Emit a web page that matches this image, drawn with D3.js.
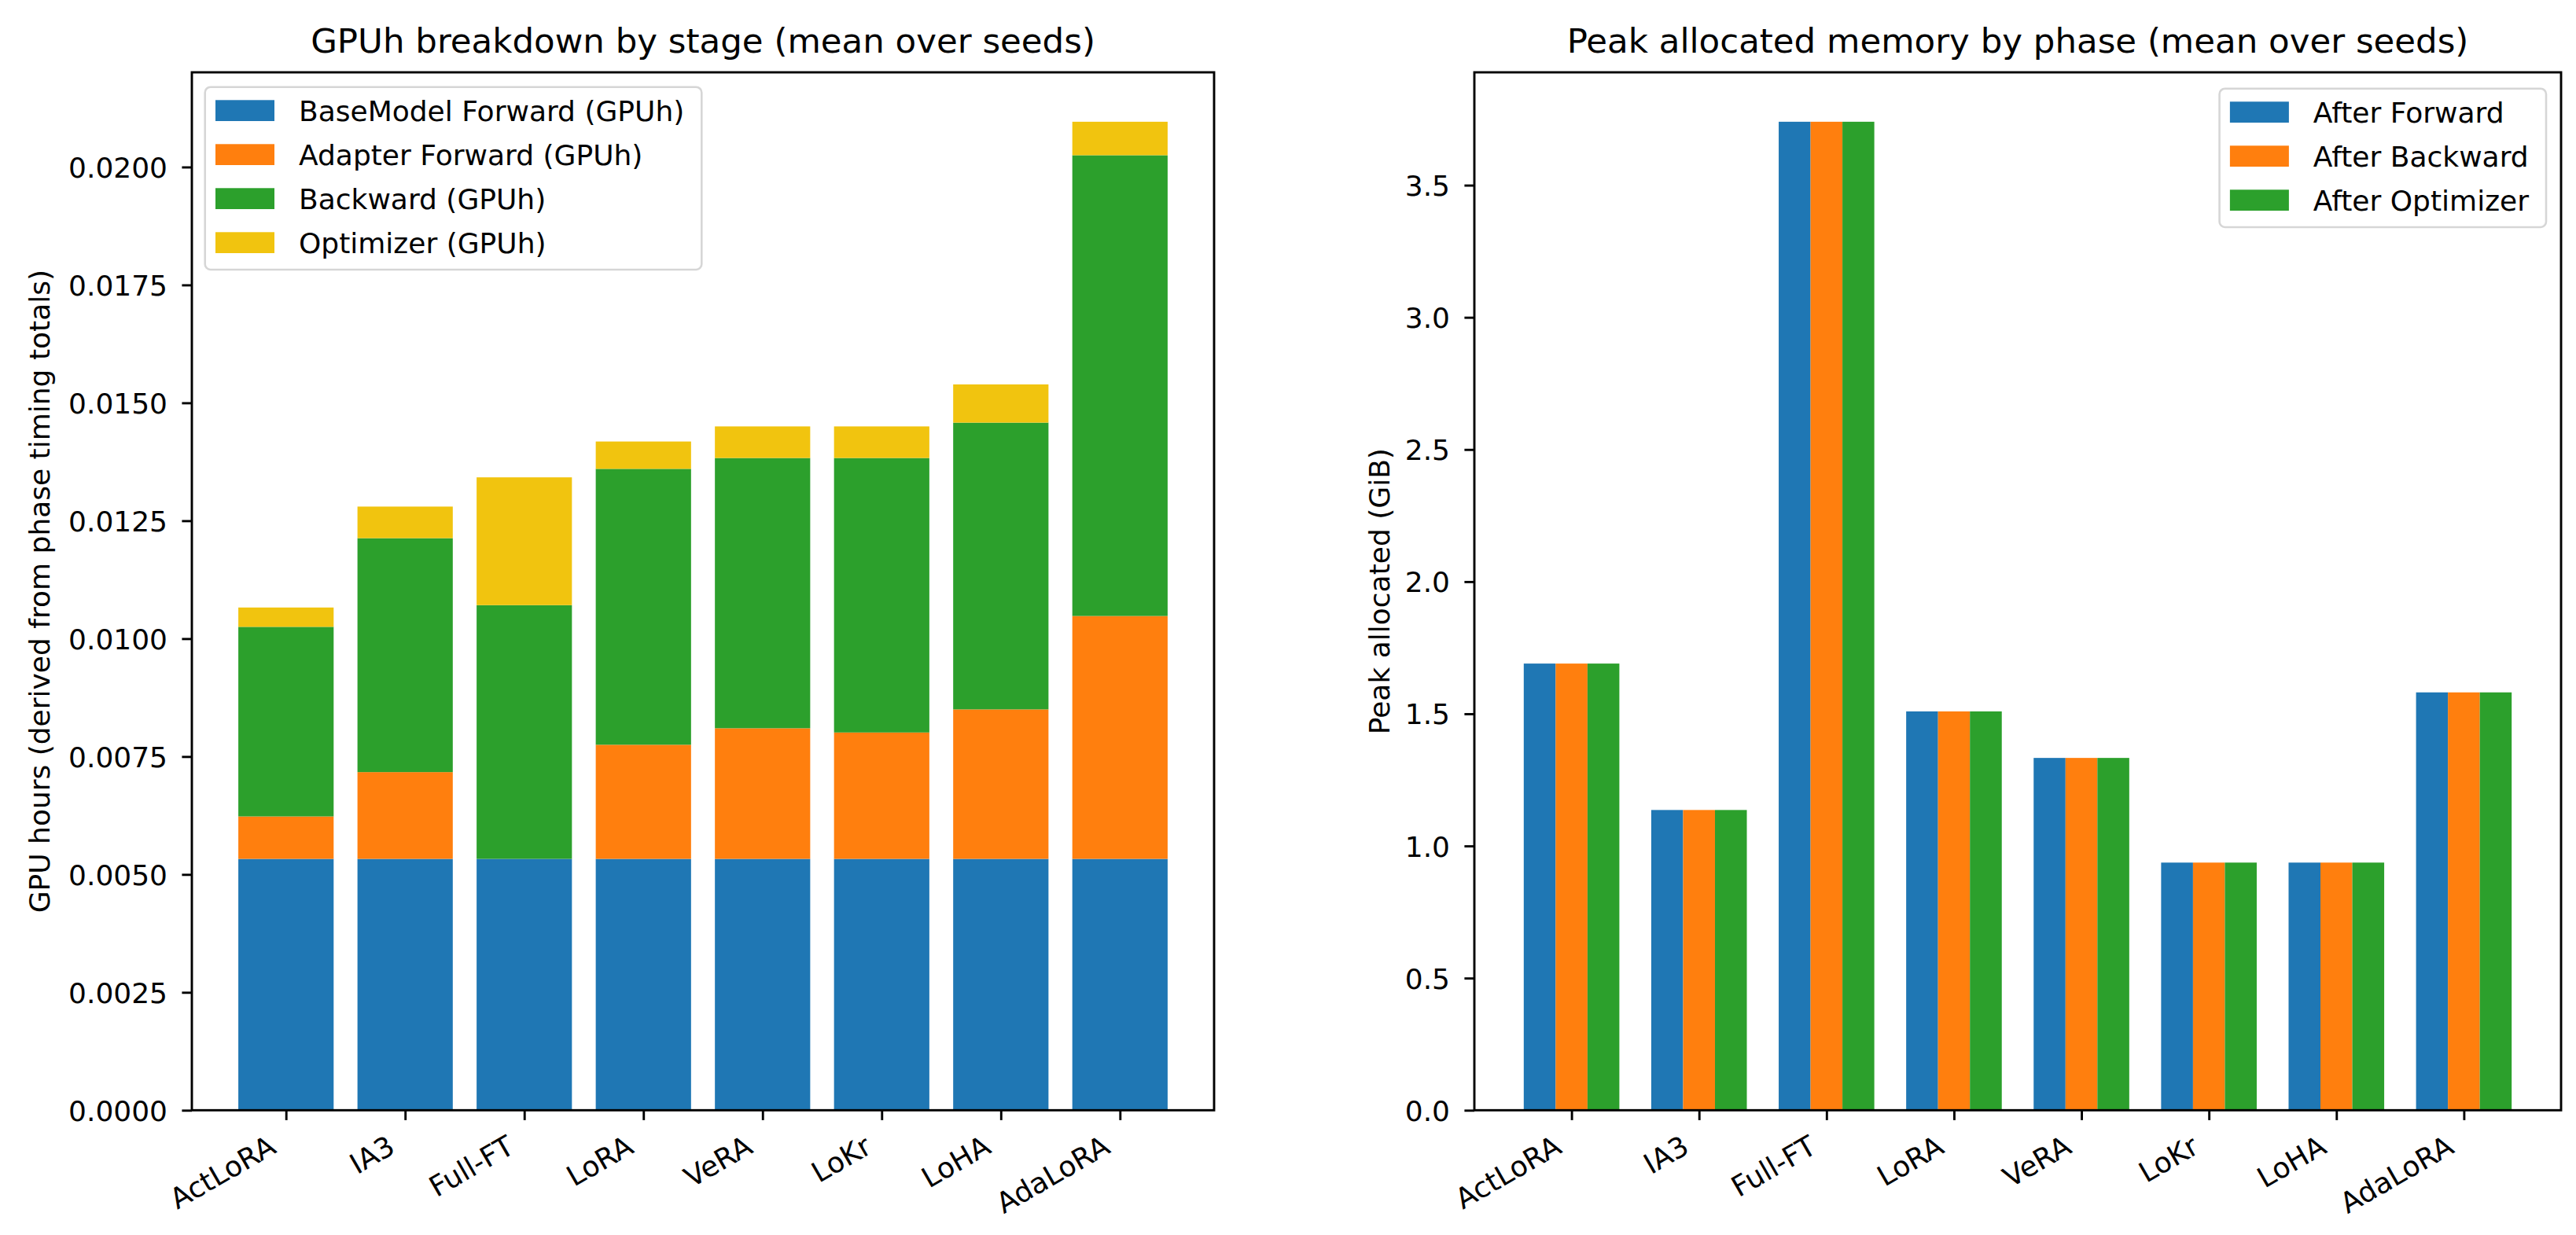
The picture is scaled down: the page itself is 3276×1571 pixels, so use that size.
<!DOCTYPE html>
<html>
<head>
<meta charset="utf-8">
<script src="https://cdn.jsdelivr.net/npm/d3@7"></script>
<style>
  body { margin: 0; background: #fff; }
  text { font-family: "DejaVu Sans", sans-serif; fill: #000; }
</style>
</head>
<body>
<div id="chart"></div>
<script>
// data
var methods = ["ActLoRA", "IA3", "Full-FT", "LoRA", "VeRA", "LoKr", "LoHA", "AdaLoRA"];

var baseForward    = [0.00533, 0.00533, 0.00533, 0.00533, 0.00533, 0.00533, 0.00533, 0.00533];
var adapterForward = [0.00090, 0.00184, 0.00000, 0.00242, 0.00277, 0.00268, 0.00317, 0.00515];
var backward       = [0.00402, 0.00496, 0.00538, 0.00585, 0.00573, 0.00582, 0.00608, 0.00977];
var optimizer      = [0.00041, 0.00067, 0.00271, 0.00058, 0.00067, 0.00067, 0.00081, 0.00071];

var memAfterForward   = [1.690, 1.136, 3.740, 1.509, 1.333, 0.937, 0.937, 1.581];
var memAfterBackward  = [1.690, 1.136, 3.740, 1.509, 1.333, 0.937, 0.937, 1.581];
var memAfterOptimizer = [1.690, 1.136, 3.740, 1.509, 1.333, 0.937, 0.937, 1.581];

var gpuTicks = [0, 0.0025, 0.005, 0.0075, 0.01, 0.0125, 0.015, 0.0175, 0.02];
var memTicks = [0, 0.5, 1.0, 1.5, 2.0, 2.5, 3.0, 3.5];

var stageNames = ["BaseModel Forward (GPUh)", "Adapter Forward (GPUh)", "Backward (GPUh)", "Optimizer (GPUh)"];
var stageColors = ["#1f77b4", "#ff7f0e", "#2ca02c", "#f1c40f"];
var phaseNames = ["After Forward", "After Backward", "After Optimizer"];
var phaseColors = ["#1f77b4", "#ff7f0e", "#2ca02c"];

// layout
var W = 3276, H = 1571;
var fs = 36, titleFs = 43.5;
var tickLen = 12.6, lw = 2.9;
var plotTop = 92, plotBottom = 1412.3;

var svg = d3.select('#chart').append('svg')
    .attr('width', W)
    .attr('height', H);
svg.append('rect').attr('width', W).attr('height', H).attr('fill', '#fff');

function drawAxes(g, x, y, yFormat, yTicks, left, right, title, ylabel, ylabelX) {
    // y axis
    var ya = g.append('g')
        .attr('transform', 'translate(' + left + ',0)')
        .call(d3.axisLeft(y).tickValues(yTicks).tickFormat(yFormat)
            .tickSize(tickLen).tickSizeOuter(0).tickPadding(31 - tickLen));
    ya.select('.domain').remove();
    ya.selectAll('line').attr('stroke', '#000').attr('stroke-width', lw);
    ya.selectAll('text').attr('font-size', fs).attr('font-family', 'DejaVu Sans').attr('dy', '0.36em');

    // x axis
    var xa = g.append('g')
        .attr('transform', 'translate(0,' + plotBottom + ')')
        .call(d3.axisBottom(x).tickValues(d3.range(methods.length))
            .tickFormat(function(i) { return methods[i]; })
            .tickSize(tickLen).tickSizeOuter(0));
    xa.select('.domain').remove();
    xa.selectAll('line').attr('stroke', '#000').attr('stroke-width', lw);
    xa.selectAll('text')
        .attr('font-size', fs).attr('font-family', 'DejaVu Sans')
        .attr('x', 0).attr('y', 0).attr('dy', 0)
        .attr('text-anchor', 'end')
        .attr('transform', 'translate(-11,53) rotate(-30)');

    // spines
    g.append('rect')
        .attr('x', left).attr('y', plotTop)
        .attr('width', right - left).attr('height', plotBottom - plotTop)
        .attr('fill', 'none').attr('stroke', '#000').attr('stroke-width', lw);

    g.append('text')
        .attr('x', (left + right) / 2).attr('y', 67)
        .attr('text-anchor', 'middle').attr('font-size', titleFs)
        .text(title);

    g.append('text')
        .attr('transform', 'translate(' + ylabelX + ',' + ((plotTop + plotBottom) / 2) + ') rotate(-90)')
        .attr('text-anchor', 'middle').attr('font-size', fs)
        .text(ylabel);
}

function drawLegend(g, names, colors, anchorX, anchorY, alignRight) {
    var pitch = 56, padX = 13.3, patchW = 75, patchH = 26.7, gap = 31, padTop = 16.6;
    var lg = g.append('g');
    var box = lg.append('rect');
    var texts = [];
    names.forEach(function(n, i) {
        var py = padTop + i * pitch;
        lg.append('rect')
            .attr('x', padX).attr('y', py)
            .attr('width', patchW).attr('height', patchH)
            .attr('fill', colors[i]);
        texts.push(lg.append('text')
            .attr('x', padX + patchW + gap).attr('y', py + patchH)
            .attr('font-size', fs)
            .text(n));
    });
    var maxW = d3.max(texts, function(t) { return t.node().getComputedTextLength(); });
    var bw = padX + patchW + gap + maxW + 22;
    var bh = padTop + (names.length - 1) * pitch + patchH + 21;
    box.attr('x', 0).attr('y', 0).attr('width', bw).attr('height', bh)
        .attr('rx', 7).attr('fill', '#fff').attr('fill-opacity', 0.8)
        .attr('stroke', '#d6d6d6').attr('stroke-width', 2.6);
    var lx = alignRight ? anchorX - bw : anchorX;
    lg.attr('transform', 'translate(' + lx + ',' + anchorY + ')');
}

// ---------- left: stacked GPUh ----------
var L = {left: 244, right: 1544};
var x1 = d3.scaleLinear().domain([-0.79, 7.79]).range([L.left, L.right]);
var totals = methods.map(function(m, i) { return baseForward[i] + adapterForward[i] + backward[i] + optimizer[i]; });
var y1 = d3.scaleLinear().domain([0, d3.max(totals) * 1.05]).range([plotBottom, plotTop]);

var rows = methods.map(function(m, i) {
    return {method: m, i: i, s0: baseForward[i], s1: adapterForward[i], s2: backward[i], s3: optimizer[i]};
});
var stacked = d3.stack().keys(['s0', 's1', 's2', 's3'])(rows);

var g1 = svg.append('g');
stacked.forEach(function(layer, k) {
    g1.selectAll('.stage' + k)
        .data(layer)
        .enter()
        .append('rect')
        .attr('x', function(d) { return x1(d.data.i - 0.4); })
        .attr('width', function(d) { return x1(d.data.i + 0.4) - x1(d.data.i - 0.4); })
        .attr('y', function(d) { return y1(d[1]); })
        .attr('height', function(d) { return y1(d[0]) - y1(d[1]); })
        .attr('fill', stageColors[k]);
});
drawAxes(g1, x1, y1, d3.format('.4f'), gpuTicks, L.left, L.right,
    'GPUh breakdown by stage (mean over seeds)',
    'GPU hours (derived from phase timing totals)', 63);
drawLegend(g1, stageNames, stageColors, 260.7, 110.7, false);

// ---------- right: grouped memory ----------
var R = {left: 1875, right: 3257};
var x2 = d3.scaleLinear().domain([-0.7625, 7.7625]).range([R.left, R.right]);
var phases = [memAfterForward, memAfterBackward, memAfterOptimizer];
var y2 = d3.scaleLinear().domain([0, d3.max(memAfterOptimizer) * 1.05]).range([plotBottom, plotTop]);
var barW = 0.25;

var g2 = svg.append('g');
phases.forEach(function(vals, k) {
    var off = (k - 1) * barW;
    g2.selectAll('.phase' + k)
        .data(vals)
        .enter()
        .append('rect')
        .attr('x', function(d, i) { return x2(i + off - barW / 2); })
        .attr('width', function(d, i) { return x2(i + off + barW / 2) - x2(i + off - barW / 2); })
        .attr('y', function(d) { return y2(d); })
        .attr('height', function(d) { return y2(0) - y2(d); })
        .attr('fill', phaseColors[k]);
});
drawAxes(g2, x2, y2, d3.format('.1f'), memTicks, R.left, R.right,
    'Peak allocated memory by phase (mean over seeds)',
    'Peak allocated (GiB)', 1767);
drawLegend(g2, phaseNames, phaseColors, 3238, 112.7, true);
</script>
</body>
</html>
